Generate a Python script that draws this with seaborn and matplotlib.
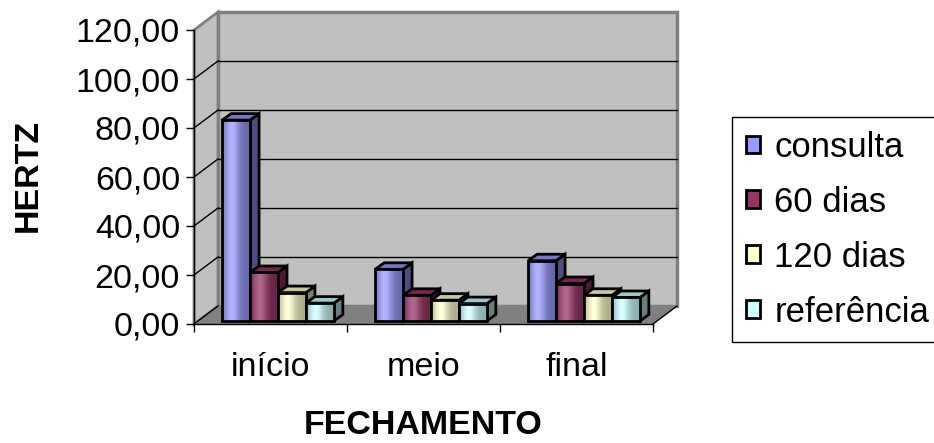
import numpy as np
import pandas as pd
import matplotlib
matplotlib.use('Agg')
import matplotlib.pyplot as plt
from matplotlib.patches import Polygon, Patch
from matplotlib.colors import to_rgb
import seaborn as sns

# dados
fases = ['início', 'meio', 'final']
series = ['consulta', '60 dias', '120 dias', 'referência']
consulta = [82.0, 21.1, 24.6]
dias60 = [19.8, 10.5, 15.3]
dias120 = [11.6, 8.5, 10.5]
referencia = [7.3, 7.1, 9.6]
cores = ['#9999ff', '#993366', '#ffffcc', '#ccffff']
yticks = [0, 20, 40, 60, 80, 100, 120]

plt.rcParams['font.family'] = ['Liberation Sans', 'DejaVu Sans']

df = pd.DataFrame({
    'fase': fases * 4,
    'serie': np.repeat(series, 3),
    'hertz': consulta + dias60 + dias120 + referencia,
})

W, H = 934, 443
L, R, B, T = 194, 653, 324, 30
fig = plt.figure(figsize=(W / 100, H / 100), dpi=100)
ax = fig.add_axes([L / W, 1 - B / H, (R - L) / W, (B - T) / H])

sns.barplot(data=df, x='fase', y='hertz', hue='serie', palette=cores,
            width=0.73, edgecolor='black', linewidth=2, saturation=1,
            legend=False, ax=ax)
bars = sorted(ax.patches, key=lambda p: p.get_x())

ax.set_xlim(-0.5, 2.5)
ax.set_ylim(0, 120)
ax.set_facecolor('none')

# pixels -> unidades de dados
px_x = 3 / (R - L)
px_y = 120 / (B - T)
DX, DY = 24 * px_x, 18 * px_y      # profundidade das paredes
bdx, bdy = 9 * px_x, 6.5 * px_y    # profundidade das barras
fx, fy = 7.5 * px_x, 3 * px_y      # deslocamento da face frontal

# paredes e piso
wall = '#c0c0c0'
ax.add_patch(Polygon([(-0.5 + DX, DY), (2.5 + DX, DY), (2.5 + DX, 120 + DY), (-0.5 + DX, 120 + DY)],
                     closed=True, fc=wall, ec='#808080', lw=2.5, zorder=0.5, clip_on=False))
ax.add_patch(Polygon([(-0.5, 0), (-0.5, 120), (-0.5 + DX, 120 + DY), (-0.5 + DX, DY)],
                     closed=True, fc=wall, ec='#808080', lw=2, zorder=0.6, clip_on=False))
ax.add_patch(Polygon([(-0.5, 0), (2.5, 0), (2.5 + DX, DY), (-0.5 + DX, DY)],
                     closed=True, fc='#808080', ec='none', zorder=0.7, clip_on=False))
ax.plot([2.5, 2.5 + DX], [0, DY], color='black', lw=1, zorder=0.8, clip_on=False)
ax.plot([-0.5, -0.5 + DX], [0, DY], color='black', lw=1, zorder=0.8, clip_on=False)
for v in yticks[1:-1]:
    ax.plot([-0.5 + DX, 2.5 + DX], [v + DY, v + DY], color='black', lw=1, zorder=0.8, clip_on=False)
    ax.plot([-0.5, -0.5 + DX], [v, v + DY], color='black', lw=1, zorder=0.8, clip_on=False)

# barras em "3D"
t = np.linspace(0, 1, 64)
f = np.exp(-((t - 0.35) / 0.28) ** 2)
for i, p in enumerate(bars):
    z = 3 + i * 0.1
    x, w, h = p.get_x() + fx, p.get_width(), p.get_height()
    y = fy
    p.set_x(x)
    p.set_y(y)
    c = np.array(to_rgb(p.get_facecolor()))
    grad = c[None, :] * (0.68 + 0.32 * f[:, None]) + (1 - c[None, :]) * 0.25 * f[:, None]
    ax.imshow(np.clip(grad, 0, 1)[None, :, :], extent=[x, x + w, y, y + h],
              aspect='auto', zorder=z + 0.01, interpolation='bilinear')
    p.set_facecolor('none')
    p.set_zorder(z + 0.02)
    ax.add_patch(Polygon([(x + w, y), (x + w + bdx, y + bdy), (x + w + bdx, y + h + bdy), (x + w, y + h)],
                         closed=True, fc=c * 0.5, ec='black', lw=2, zorder=z))
    ax.add_patch(Polygon([(x, y + h), (x + w, y + h), (x + w + bdx, y + h + bdy), (x + bdx, y + h + bdy)],
                         closed=True, fc=c * 0.78, ec='black', lw=2, zorder=z))

ax.set_xlim(-0.5, 2.5)
ax.set_ylim(0, 120)

# eixos
for s in ['top', 'right']:
    ax.spines[s].set_visible(False)
for s in ['left', 'bottom']:
    ax.spines[s].set_color('black')
    ax.spines[s].set_linewidth(1)
    ax.spines[s].set_zorder(2.5)

ax.set_yticks(yticks)
ax.set_yticklabels([f'{v:.2f}'.replace('.', ',') for v in yticks])
ax.tick_params(axis='y', length=6, width=1, pad=4, labelsize=24.5)
ax.set_xticks([0, 1, 2])
ax.set_xticklabels(fases)
ax.set_xticks([-0.5, 0.5, 1.5, 2.5], minor=True)
ax.tick_params(axis='x', which='major', length=0, pad=20, labelsize=24.5)
ax.tick_params(axis='x', which='minor', length=6, width=1)
ax.set_xlabel('')
ax.set_ylabel('')

fig.text(28 / W, 1 - 175 / H, 'HERTZ', rotation=90, ha='center', va='center',
         fontsize=24.5, fontweight='bold')
fig.text(423 / W, 1 - 426 / H, 'FECHAMENTO', ha='center', va='center',
         fontsize=24.5, fontweight='bold')

handles = [Patch(facecolor=c, edgecolor='black', linewidth=2) for c in cores]
leg = fig.legend(handles, series, loc='upper left', bbox_to_anchor=(732 / W, 1 - 117 / H),
                 fontsize=25, handlelength=0.42, handleheight=0.42, handletextpad=0.4,
                 labelspacing=0.63, borderpad=0.4, borderaxespad=0, fancybox=False,
                 edgecolor='black', framealpha=1)
leg.get_frame().set_linewidth(1)

fig.savefig('out.png', dpi=100)
